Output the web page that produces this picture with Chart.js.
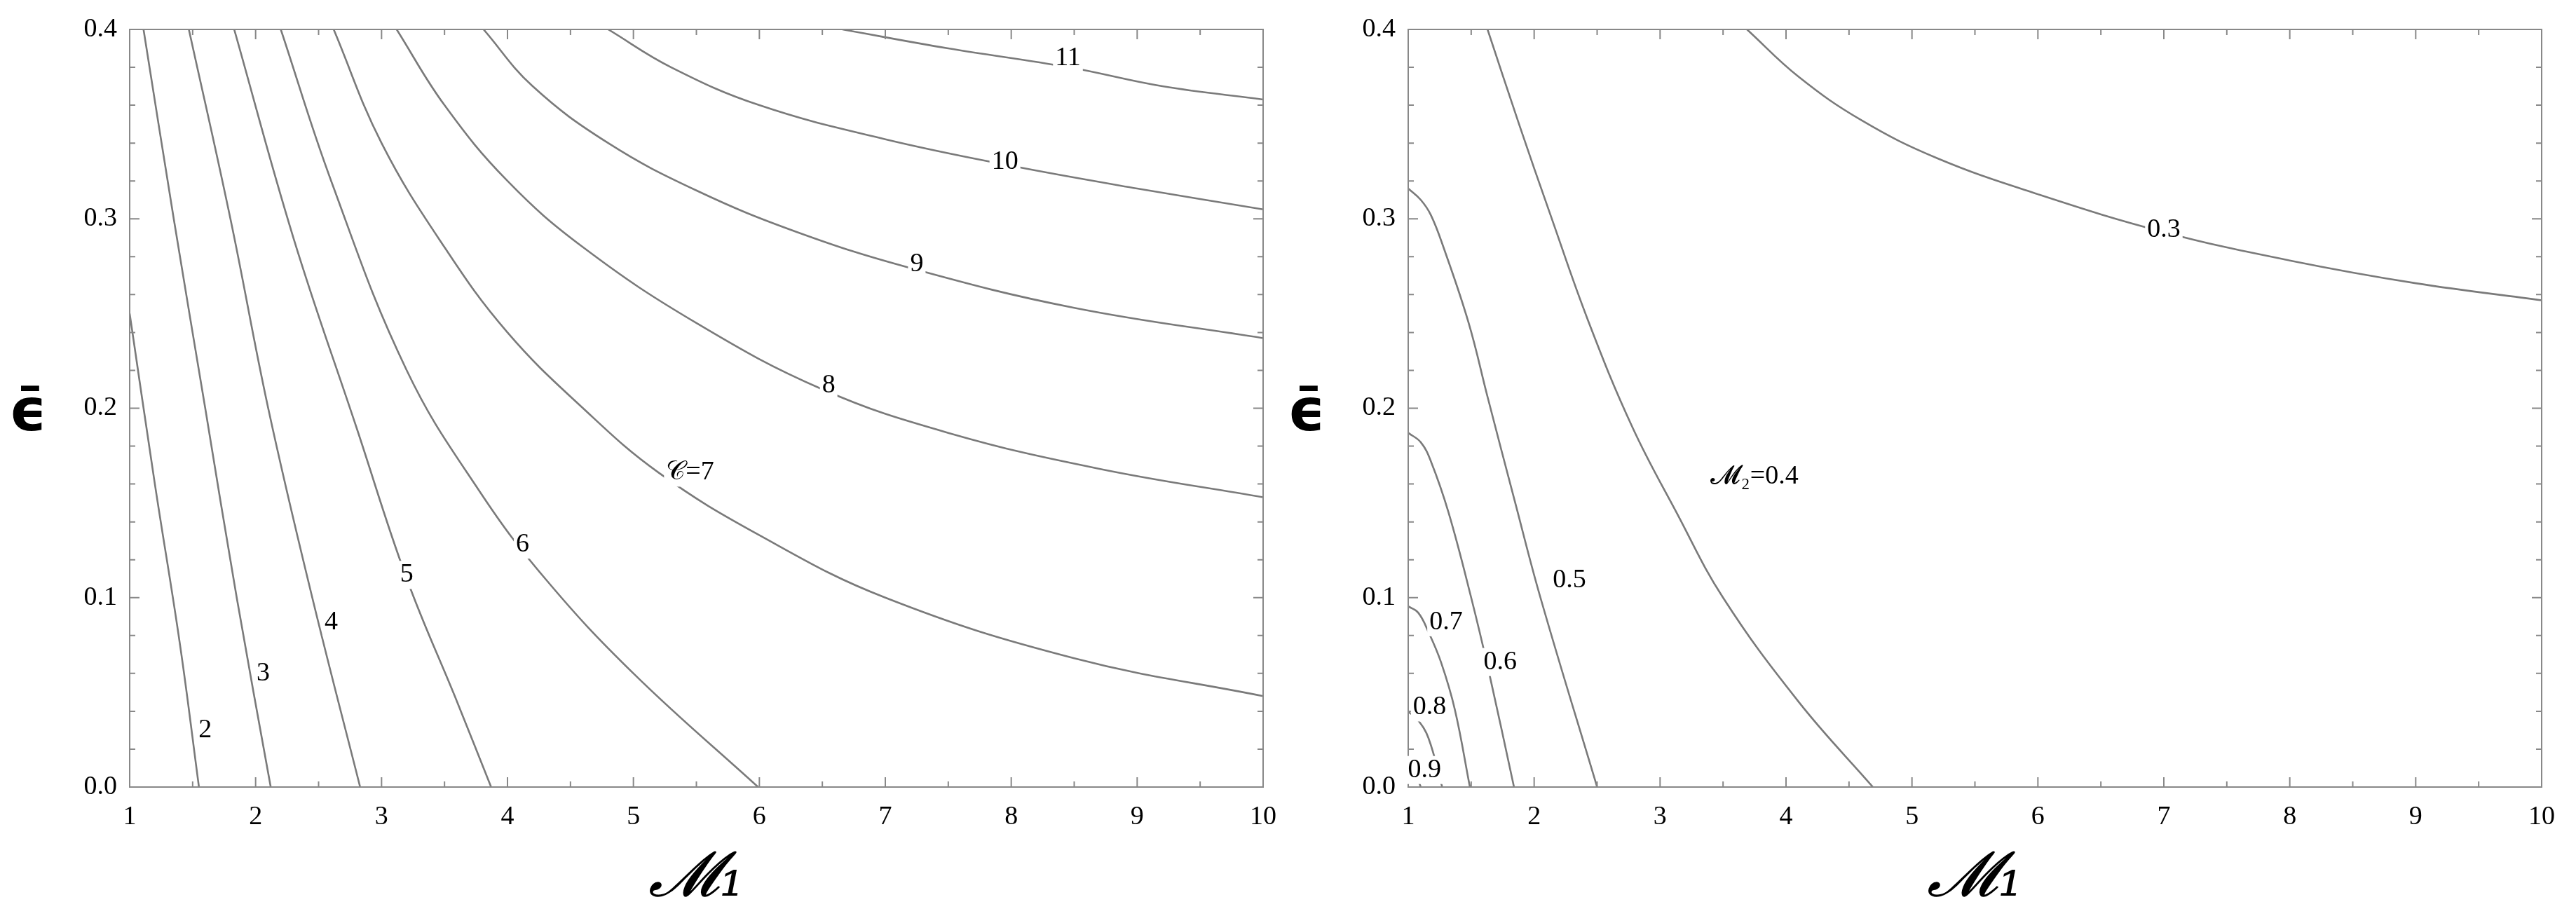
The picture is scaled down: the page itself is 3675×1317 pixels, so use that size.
<!DOCTYPE html>
<html><head><meta charset="utf-8">
<script src="https://cdn.jsdelivr.net/npm/chart.js@4"></script>
<style>
html,body{margin:0;padding:0;background:#fff;}
#wrap{position:relative;width:3675px;height:1317px;}
.c{position:absolute;top:0;height:1317px;}
</style></head><body>
<div id="wrap">
<div class="c" style="left:0;width:1837px"><canvas id="a"></canvas></div>
<div class="c" style="left:1837px;width:1838px"><canvas id="b"></canvas></div>
</div>
<script>
// ---- data: left panel, contours of C (points [M1, eps]) ----
const leftLevels = ["2","3","4","5","6","7","8","9","10","11"];
const C2  = [[1,0.25],[1.2,0.16],[1.4,0.075],[1.55,0]];
const C3  = [[1.11,0.4],[1.35,0.3],[1.6,0.2],[1.85,0.1],[2.12,0]];
const C4  = [[1.47,0.4],[1.8,0.3],[2.1,0.2],[2.45,0.1],[2.83,0]];
const C5  = [[1.83,0.4],[2.3,0.29],[2.8,0.19],[3.2,0.11],[3.6,0.045],[3.87,0]];
const C6  = [[2.2,0.4],[2.6,0.32],[3.2,0.22],[3.78,0.156],[4.3,0.11],[5.0,0.06],[5.99,0]];
const C7  = [[2.62,0.4],[3.0,0.34],[3.5,0.285],[4.0,0.24],[4.6,0.2],[5.2,0.166],[6.0,0.133],[7.0,0.1],[8.5,0.068],[10,0.048]];
const C8  = [[3.12,0.4],[3.5,0.36],[4.0,0.32],[4.6,0.285],[5.5,0.245],[6.5,0.21],[7.5,0.187],[8.7,0.168],[10,0.153]];
const C9  = [[3.81,0.4],[4.2,0.37],[4.8,0.34],[5.5,0.315],[6.3,0.293],[7.2,0.274],[8.5,0.253],[10,0.237]];
const C10 = [[4.8,0.4],[5.3,0.38],[6.0,0.36],[7.0,0.342],[8.0,0.328],[9.0,0.316],[10,0.305]];
const C11 = [[6.66,0.4],[7.5,0.39],[8.46,0.38],[9.2,0.37],[10,0.363]];
const leftCurves = [C2,C3,C4,C5,C6,C7,C8,C9,C10,C11];
const leftLabels = [["2",1.6,0.03],["3",2.06,0.06],["4",2.6,0.087],["5",3.2,0.112],["6",4.12,0.128],["𝒞=7",5.45,0.166],["8",6.55,0.212],["9",7.25,0.276],["10",7.95,0.33],["11",8.45,0.385]];

// ---- data: right panel, contours of M2 ----
const rightLevels = ["0.3","0.4","0.5","0.6","0.7","0.8","0.9"];
const M03 = [[3.69,0.4],[4.1,0.375],[4.6,0.352],[5.2,0.332],[6.0,0.313],[7.0,0.293],[8.0,0.278],[9.0,0.266],[10,0.257]];
const M04 = [[1.63,0.4],[1.88,0.35],[2.13,0.302],[2.43,0.246],[2.78,0.19],[3.13,0.145],[3.5,0.1],[4.1,0.045],[4.69,0]];
const M05 = [[1,0.316],[1.1,0.31],[1.18,0.302],[1.28,0.285],[1.48,0.245],[1.63,0.206],[1.85,0.15],[2.05,0.1],[2.5,0]];
const M06 = [[1,0.187],[1.1,0.182],[1.18,0.172],[1.32,0.145],[1.5,0.1],[1.64,0.061],[1.84,0]];
const M07 = [[1,0.0954],[1.08,0.092],[1.16,0.082],[1.26,0.066],[1.37,0.041],[1.49,0]];
const M08 = [[1,0.0397],[1.07,0.036],[1.16,0.026],[1.27,0]];
const M09 = [[1,0.012],[1.05,0.008],[1.1,0]];
const rightCurves = [M03,M04,M05,M06,M07,M08,M09];
const rightLabels = [["0.3",7.0,0.294],["𝓜₂=0.4",3.75,0.164],["0.5",2.28,0.109],["0.6",1.73,0.066],["0.7",1.3,0.087],["0.8",1.17,0.042],["0.9",1.13,0.009]];

const xTicks = [1,2,3,4,5,6,7,8,9,10];
const yTicks = [0,0.1,0.2,0.3,0.4];

const SERIF = "'Liberation Serif','DejaVu Serif',serif";

function decor(labels){
  return {
    id:'decor',
    afterDatasetsDraw(chart){
      const {ctx, chartArea:a, scales:{x,y}} = chart;
      ctx.save();
      ctx.strokeStyle='#888'; ctx.lineWidth=2;
      ctx.strokeRect(a.left,a.top,a.right-a.left,a.bottom-a.top);
      ctx.beginPath();
      for(let v=1; v<=10.001; v+=0.5){
        const px=x.getPixelForValue(v); const L=(Math.abs(v-Math.round(v))<1e-6)?14:8;
        ctx.moveTo(px,a.bottom); ctx.lineTo(px,a.bottom-L);
        ctx.moveTo(px,a.top); ctx.lineTo(px,a.top+L);
      }
      for(let i=0;i<=20;i++){
        const v=i*0.02; const py=y.getPixelForValue(v); const L=(i%5===0)?14:8;
        ctx.moveTo(a.left,py); ctx.lineTo(a.left+L,py);
        ctx.moveTo(a.right,py); ctx.lineTo(a.right-L,py);
      }
      ctx.stroke();
      ctx.font="38px "+SERIF; ctx.textAlign='center'; ctx.textBaseline='middle';
      for(const [t,vx,vy] of labels){
        const px=x.getPixelForValue(vx), py=y.getPixelForValue(vy);
        const w=ctx.measureText(t).width;
        ctx.fillStyle='#fff'; ctx.fillRect(px-w/2-3,py-20,w+6,40);
        ctx.fillStyle='#000'; ctx.fillText(t,px,py);
      }
      ctx.fillStyle='#000';
      ctx.font="bold 84px 'DejaVu Sans',sans-serif";
      ctx.fillText("ϵ̄", a.left-145, (a.top+a.bottom)/2+10);
      ctx.font="italic 90px 'DejaVu Serif',serif";
      ctx.fillText("𝓜₁", (a.left+a.right)/2, 1255);
      ctx.restore();
    }
  };
}

function make(id, curves, labels, padL, padR){
  new Chart(document.getElementById(id), {
    type:'scatter',
    data:{datasets: curves.map(c=>({
      data:c.map(p=>({x:p[0],y:p[1]})), showLine:true, pointRadius:0,
      borderColor:'#7a7a7a', borderWidth:2.6, tension:0.4, fill:false
    }))},
    options:{
      responsive:true, maintainAspectRatio:false, animation:false,
      layout:{padding:{left:0,right:padR,top:42,bottom:0}},
      plugins:{legend:{display:false},tooltip:{enabled:false}},
      scales:{
        x:{type:'linear',min:1,max:10,
           afterBuildTicks:s=>{s.ticks=xTicks.map(v=>({value:v}));},
           afterFit:s=>{s.height=1317-1123;},
           grid:{display:false}, border:{display:false},
           ticks:{color:'#000',font:{family:SERIF,size:38},padding:12,maxRotation:0,callback:v=>String(v)}},
        y:{type:'linear',min:0,max:0.4,
           afterBuildTicks:s=>{s.ticks=yTicks.map(v=>({value:v}));},
           afterFit:s=>{s.width=padL;},
           grid:{display:false}, border:{display:false},
           ticks:{color:'#000',font:{family:SERIF,size:38},padding:10,callback:v=>v.toFixed(1)}}
      }
    },
    plugins:[decor(labels)]
  });
}
make('a', leftCurves, leftLabels, 185, 35);
make('b', rightCurves, rightLabels, 172, 49);
</script>
</body></html>
